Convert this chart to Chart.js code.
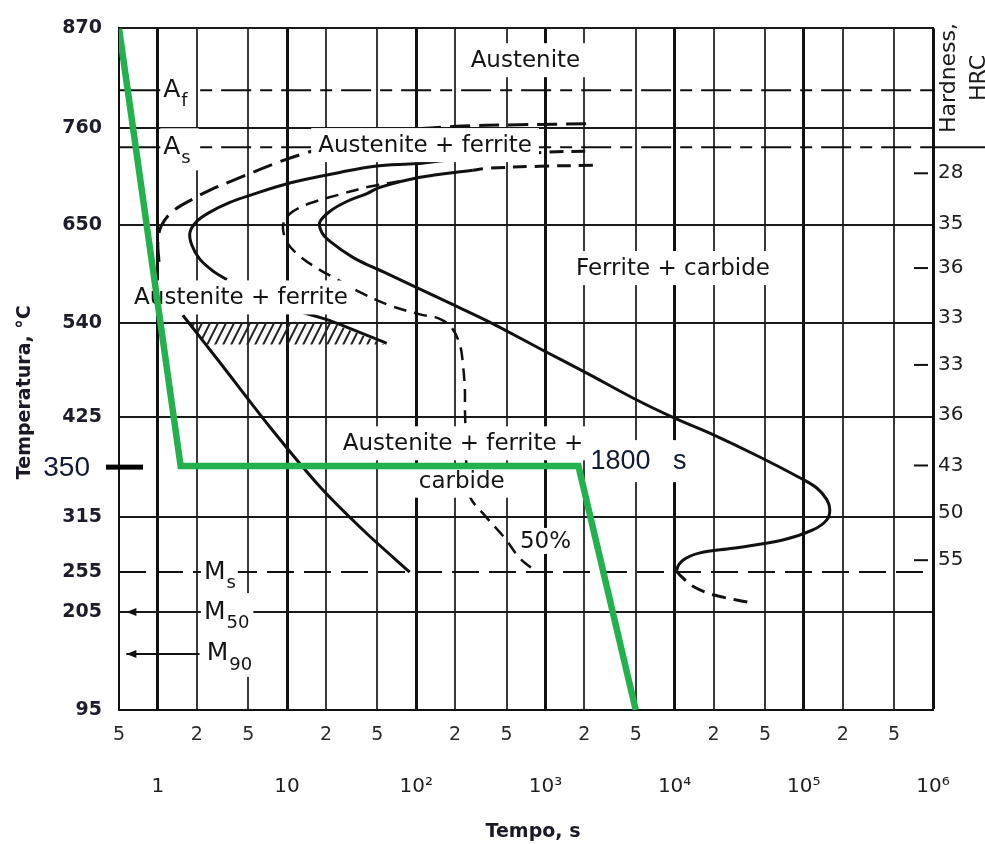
<!DOCTYPE html>
<html lang="en">
<head>
<meta charset="utf-8">
<title>Isothermal transformation diagram</title>
<script src="https://cdn.jsdelivr.net/npm/chart.js@4.4.1/dist/chart.umd.min.js"></script>
<style>
  html, body { margin: 0; padding: 0; background: #ffffff; }
  canvas { display: block; }
</style>
</head>
<body>
<canvas id="ttt" width="985" height="844"></canvas>
<script>
// ---------- axis ticks ----------
const timeGridTicks = [0.5, 1, 2, 5, 10, 20, 50, 100, 200, 500, 1000, 2000, 5000,
  1e4, 2e4, 5e4, 1e5, 2e5, 5e5, 1e6];
const timeDecadeTicks = [1, 10, 100, 1000, 1e4, 1e5, 1e6];
const timeDecadeLabels = ['1', '10', '10²', '10³', '10⁴', '10⁵', '10⁶'];
const tempTicks = [870, 760, 650, 540, 425, 350, 315, 255, 205, 95];
const tempGridLines = [870, 760, 650, 540, 425, 315, 205, 95];
const hardnessTemps = [709, 652, 602, 546, 489, 428, 351, 318, 268];
const hardnessHRC = [28, 35, 36, 33, 33, 36, 43, 50, 55];

// ---------- critical temperatures (°C) ----------
const tempAf = 802;
const tempAs = 738.5;
const tempMs = 255;
const tempM50 = 205;
const tempM90 = 158;

// ---------- heat-treatment path: quench, hold at 350 °C for 1800 s, cool ----------
const pathTime = [0.5, 1.5, 1800, 5000];
const pathTemp = [870, 350, 350, 95];

// ---------- transformation curves (time in s, temperature in °C) ----------
const outerStartTime = [1.02, 1.0, 1.06, 1.28, 1.77, 2.53, 4.3, 7.4, 12.6, 31, 75, 192, 630, 2200];
const outerStartTemp = [609, 631, 649, 665, 678, 690, 704, 718, 730, 746, 757, 762, 764, 765];

const ferriteStartTime = [3.42, 2.71, 2.11, 1.83, 1.77, 2.0, 2.53, 3.61, 5.15, 10.5, 25.6, 47.8,
  101, 152, 311, 1025, 2330];
const ferriteStartTemp = [589, 598, 612, 628, 642, 654.5, 665, 676, 684, 698, 710, 717,
  720, 723, 727, 733, 734];

const carbideTime = [2330, 905, 352, 274, 107, 52.3, 41.5, 29, 21.5, 17.9, 18.6, 21.5, 32.3,
  46.1, 55.2, 101, 182, 311, 444, 955, 2090, 5100, 10000, 18700, 45600, 93100, 126000,
  150700, 158900, 150700, 117400, 68800, 28200, 15700, 11600, 10400, 11200, 14300, 20500, 36900];
const carbideTemp = [718, 717, 714.6, 712.4, 704.4, 693, 686, 677, 666, 653.4, 642, 632, 614,
  603, 598, 580, 562.5, 546.7, 535, 507, 479, 446, 423.5, 400.5, 364, 342, 335,
  327, 320, 312, 301, 290, 281, 276, 268, 257, 250, 236, 226, 217.5];

const bainiteTime = [1.56, 3.02, 7.36, 17.9, 40, 89];
const bainiteTemp = [549, 492, 410, 336, 299, 255];

const halfTime = [74.6, 43.7, 25.6, 15, 10.9, 9.62, 9.28, 9.97, 12.6, 17.9, 22.6, 36.6, 62.5,
  107, 152, 189, 218, 230, 238, 238, 242, 246, 260, 340, 485, 634, 858];
const halfTemp = [700, 694, 685, 675, 665, 656, 647, 631, 615, 600, 592, 575, 560,
  550, 545, 534, 513, 489, 458, 436, 390, 344, 329, 316, 292, 270, 255];

const hatchEdgeTime = [13.25, 21.5, 59];
const hatchEdgeTemp = [552, 543, 515.5];
const hatchTime = [1.74, 22.6, 57, 2.4];
const hatchTemp = [540, 540, 514, 514];

// ---------- text placed on the diagram ----------
const regionLabels = [
  { text: 'Austenite', t: 700, T: 835 },
  { text: 'Austenite + ferrite', t: 117, T: 741 },
  { text: 'Ferrite + carbide', t: 9700, T: 602 },
  { text: 'Austenite + ferrite', t: 4.4, T: 569 },
  { text: 'Austenite + ferrite +', t: 230, T: 385 },
  { text: 'carbide', t: 225, T: 340 },
  { text: '50%', t: 1000, T: 289, padX: 2, h: 26 }
];
const phaseMarks = [
  { main: 'A', sub: 'f', t: 1.1, T: tempAf, padR: 8 },
  { main: 'A', sub: 's', t: 1.1, T: tempAs, padR: 8 },
  { main: 'M', sub: 's', t: 2.27, T: tempMs, padR: 2 },
  { main: 'M', sub: '50', t: 2.27, T: tempM50, padR: 4 },
  { main: 'M', sub: '90', t: 2.39, T: tempM90, padR: 4 }
];

const FONT = '"DejaVu Sans", "Open Sans", sans-serif';
const INK = '#141414';

// The printed temperature scale is not evenly spaced: each printed value
// sits at its own fraction of the axis height (top = 0, bottom = 1).
const tempAxisFractions = [0, 0.1466, 0.2889, 0.4326, 0.5704, 0.6422, 0.7170, 0.7977, 0.8563, 1];

function tempToFraction(v) {
  const vals = tempTicks, fr = tempAxisFractions, n = vals.length - 1;
  if (v >= vals[0]) return fr[0] - (v - vals[0]) * (fr[1] - fr[0]) / (vals[0] - vals[1]);
  for (let i = 0; i < n; i++) {
    if (v <= vals[i] && v >= vals[i + 1]) {
      return fr[i] + (vals[i] - v) / (vals[i] - vals[i + 1]) * (fr[i + 1] - fr[i]);
    }
  }
  return fr[n] + (vals[n] - v) * (fr[n] - fr[n - 1]) / (vals[n - 1] - vals[n]);
}
function fractionToTemp(f) {
  const vals = tempTicks, fr = tempAxisFractions, n = vals.length - 1;
  for (let i = 0; i < n; i++) {
    if (f >= fr[i] && f <= fr[i + 1]) {
      return vals[i] - (f - fr[i]) / (fr[i + 1] - fr[i]) * (vals[i] - vals[i + 1]);
    }
  }
  return f < 0 ? vals[0] : vals[n];
}

class TemperatureScale extends Chart.LinearScale {
  getPixelForValue(value) {
    if (value === null || value === undefined || isNaN(value)) return NaN;
    return this.top + tempToFraction(value) * (this.bottom - this.top);
  }
  getValueForPixel(pixel) {
    return fractionToTemp((pixel - this.top) / (this.bottom - this.top));
  }
}
TemperatureScale.id = 'temperature';
TemperatureScale.defaults = Chart.LinearScale.defaults;
Chart.register(TemperatureScale);

function series(times, temps) {
  return times.map((t, i) => ({ x: t, y: temps[i] }));
}
function isDecade(v) {
  if (!v || v < 1) return false;
  const l = Math.log10(v);
  return Math.abs(l - Math.round(l)) < 1e-6;
}
function minorLabel(v) {
  const mant = Math.round(v / Math.pow(10, Math.floor(Math.log10(v) + 1e-9)));
  return mant === 1 ? '' : String(mant);
}

// ---------- drawing helpers ----------
function drawHatch(chart) {
  const { ctx } = chart;
  const xS = chart.scales.x, yS = chart.scales.y;
  const pts = hatchTime.map((t, i) => [xS.getPixelForValue(t), yS.getPixelForValue(hatchTemp[i])]);
  ctx.save();
  ctx.beginPath();
  pts.forEach(([x, y], i) => (i ? ctx.lineTo(x, y) : ctx.moveTo(x, y)));
  ctx.closePath();
  ctx.clip();
  const xs = pts.map(p => p[0]), ys = pts.map(p => p[1]);
  const minY = Math.min(...ys), maxY = Math.max(...ys);
  const dx = (maxY - minY) * 0.6;
  ctx.strokeStyle = '#222';
  ctx.lineWidth = 2;
  for (let x = Math.min(...xs) - dx - 10; x < Math.max(...xs) + 10; x += 8) {
    ctx.beginPath();
    ctx.moveTo(x, maxY + 2);
    ctx.lineTo(x + dx, minY - 2);
    ctx.stroke();
  }
  ctx.restore();
}

function drawLabels(chart) {
  const { ctx } = chart;
  const xS = chart.scales.x, yS = chart.scales.y;
  ctx.save();
  ctx.textBaseline = 'middle';
  regionLabels.forEach(lb => {
    const x = xS.getPixelForValue(lb.t), y = yS.getPixelForValue(lb.T);
    ctx.font = '23px ' + FONT;
    const w = ctx.measureText(lb.text).width;
    const padX = lb.padX ?? 7, h = lb.h ?? 34;
    ctx.fillStyle = '#ffffff';
    ctx.fillRect(x - w / 2 - padX, y - h / 2, w + 2 * padX, h);
    ctx.fillStyle = INK;
    ctx.textAlign = 'center';
    ctx.fillText(lb.text, x, y + 1);
  });
  phaseMarks.forEach(m => {
    const x = xS.getPixelForValue(m.t), y = yS.getPixelForValue(m.T);
    ctx.font = '25px ' + FONT;
    const wM = ctx.measureText(m.main).width;
    ctx.font = '18px ' + FONT;
    const wS = ctx.measureText(m.sub).width;
    ctx.fillStyle = '#ffffff';
    ctx.fillRect(x - 3, y - 19, wM + wS + 4 + m.padR, 42);
    ctx.fillStyle = INK;
    ctx.textAlign = 'left';
    ctx.font = '25px ' + FONT;
    ctx.fillText(m.main, x, y);
    ctx.font = '18px ' + FONT;
    ctx.fillText(m.sub, x + wM + 1, y + 11);
  });
  // arrowheads on the M50 and M90 lines
  ctx.fillStyle = '#111';
  [tempM50, tempM90].forEach(T => {
    const tip = xS.getPixelForValue(0.57), y = yS.getPixelForValue(T);
    ctx.beginPath();
    ctx.moveTo(tip, y);
    ctx.lineTo(tip + 10, y - 4);
    ctx.lineTo(tip + 10, y + 4);
    ctx.closePath();
    ctx.fill();
  });
  ctx.restore();
}

function drawExtras(chart) {
  const { ctx, chartArea: area } = chart;
  const xS = chart.scales.x, yS = chart.scales.y;
  ctx.save();

  // axis titles
  ctx.fillStyle = '#1a1a26';
  ctx.textAlign = 'center';
  ctx.textBaseline = 'middle';
  ctx.font = 'bold 19px ' + FONT;
  ctx.save();
  ctx.translate(25, (area.top + area.bottom) / 2 + 23);
  ctx.rotate(-Math.PI / 2);
  ctx.fillText('Temperatura, °C', 0, 0);
  ctx.restore();
  ctx.fillText('Tempo, s', (area.left + area.right) / 2 + 7, 832);

  // hold temperature marker on the left axis
  const yHold = yS.getPixelForValue(pathTemp[1]);
  ctx.font = '28px "Liberation Sans", Arial, sans-serif';
  ctx.textAlign = 'right';
  ctx.fillStyle = '#111a33';
  ctx.fillText(String(pathTemp[1]), area.left - 29, yHold + 2);
  ctx.fillStyle = '#000';
  ctx.fillRect(area.left - 13, yHold - 1.5, 37, 5);

  // hold time label
  const xHoldEnd = xS.getPixelForValue(pathTime[2]);
  ctx.font = '27px "Liberation Sans", Arial, sans-serif';
  const holdText = pathTime[2] + '   s';
  const wHold = ctx.measureText(holdText).width;
  ctx.fillStyle = '#ffffff';
  ctx.fillRect(xHoldEnd + 9, yHold - 26, wHold + 8, 42);
  ctx.fillStyle = '#111a33';
  ctx.textAlign = 'left';
  ctx.fillText(holdText, xHoldEnd + 12, yHold - 5);

  // hardness column on the right
  ctx.strokeStyle = '#111';
  ctx.lineWidth = 2;
  const yAs = yS.getPixelForValue(tempAs);
  ctx.beginPath();
  ctx.moveTo(area.right, yAs);
  ctx.lineTo(chart.width, yAs);
  ctx.stroke();
  ctx.fillStyle = '#111';
  hardnessTemps.forEach(T => {
    if (tempGridLines.some(g => Math.abs(g - T) < 7)) return;
    const y = yS.getPixelForValue(T);
    ctx.fillRect(area.right - 19, y - 1, 14, 2);
  });
  ctx.fillStyle = '#1a1a1a';
  ctx.font = '22px ' + FONT;
  ctx.textAlign = 'center';
  ctx.save();
  ctx.translate(area.right + 16, 78);
  ctx.rotate(-Math.PI / 2);
  ctx.fillText('Hardness,', 0, 0);
  ctx.fillText('HRC', 0, 30);
  ctx.restore();

  ctx.restore();
}

const diagramPlugin = {
  id: 'diagram',
  beforeDatasetsDraw(chart) { drawHatch(chart); },
  beforeDatasetDraw(chart, args) {
    if (chart.data.datasets[args.index].label === 'Ciclo') drawLabels(chart);
  },
  afterDraw(chart) { drawExtras(chart); }
};

const black = '#111111';
const baseLine = { borderColor: black, borderWidth: 3, pointRadius: 0, fill: false, order: 1 };

const datasets = [
  { ...baseLine, label: 'Ciclo', data: series(pathTime, pathTemp), borderColor: '#22b14c',
    borderWidth: 6.5, tension: 0, order: 0, borderJoinStyle: 'miter' },
  { ...baseLine, label: 'Af', borderWidth: 2, tension: 0,
    data: [{ x: 0.5, y: tempAf }, { x: 1.06, y: tempAf }, { x: 1e6, y: tempAf }],
    segment: { borderDash: c => (c.p0DataIndex >= 1 ? [30, 9, 12, 9] : undefined) } },
  { ...baseLine, label: 'As', borderWidth: 2, tension: 0,
    data: [{ x: 0.5, y: tempAs }, { x: 1.06, y: tempAs }, { x: 1e6, y: tempAs }],
    segment: { borderDash: c => (c.p0DataIndex >= 1 ? [30, 9, 12, 9] : undefined) } },
  { ...baseLine, label: 'Ms', borderWidth: 2, tension: 0, borderDash: [27, 10],
    data: [{ x: 0.5, y: tempMs }, { x: 1e6, y: tempMs }] },
  { ...baseLine, label: 'M90', borderWidth: 2, tension: 0,
    data: [{ x: 0.57, y: tempM90 }, { x: 2.1, y: tempM90 }] },
  { ...baseLine, label: 'Outer start', data: series(outerStartTime, outerStartTemp),
    tension: 0.35, borderDash: [20, 9] },
  { ...baseLine, label: 'Ferrite start', data: series(ferriteStartTime, ferriteStartTemp),
    tension: 0.35, segment: { borderDash: c => (c.p0DataIndex >= 13 ? [14, 8] : undefined) } },
  { ...baseLine, label: 'Carbide', data: series(carbideTime, carbideTemp), tension: 0.35,
    segment: { borderDash: c => (c.p0DataIndex < 3 || c.p0DataIndex >= 35 ? [14, 8] : undefined) } },
  { ...baseLine, label: 'Bainite start', data: series(bainiteTime, bainiteTemp), tension: 0.3 },
  { ...baseLine, label: 'Hatch edge', data: series(hatchEdgeTime, hatchEdgeTemp), tension: 0.2 },
  { ...baseLine, label: '50%', data: series(halfTime, halfTemp), tension: 0.35,
    borderWidth: 2.5, borderDash: [13, 8] }
];

new Chart(document.getElementById('ttt'), {
  type: 'line',
  data: { datasets },
  plugins: [diagramPlugin],
  options: {
    responsive: false,
    animation: false,
    events: [],
    layout: { padding: { top: 28, left: 0, right: 0, bottom: 0 } },
    plugins: { legend: { display: false }, tooltip: { enabled: false } },
    elements: { point: { radius: 0 } },
    scales: {
      x: {
        type: 'logarithmic', position: 'bottom', min: 0.5, max: 1e6, weight: 0,
        afterBuildTicks: s => { s.ticks = timeGridTicks.map(v => ({ value: v })); },
        afterFit: s => { s.height = 50; },
        grid: {
          drawTicks: false,
          color: c => (isDecade(c.tick && c.tick.value) ? '#111' : '#3a3a3a'),
          lineWidth: c => (isDecade(c.tick && c.tick.value) ? 3 : 2)
        },
        border: { display: true, color: '#111', width: 2 },
        ticks: {
          autoSkip: false, maxRotation: 0, minRotation: 0, padding: 14, color: '#2a2a2a',
          font: { family: FONT, size: 19 },
          callback: v => minorLabel(v)
        }
      },
      x2: {
        type: 'logarithmic', position: 'bottom', min: 0.5, max: 1e6, weight: 1,
        afterBuildTicks: s => { s.ticks = timeDecadeTicks.map(v => ({ value: v })); },
        afterFit: s => { s.height = 84; },
        grid: { display: false, drawTicks: false },
        border: { display: false },
        ticks: {
          autoSkip: false, maxRotation: 0, minRotation: 0, padding: 15, color: '#1e1e1e',
          font: { family: FONT, size: 20 },
          callback: (v, i) => timeDecadeLabels[i]
        }
      },
      y: {
        type: 'temperature', position: 'left', min: 95, max: 870,
        afterBuildTicks: s => { s.ticks = tempTicks.map(v => ({ value: v })); },
        afterFit: s => { s.width = 119; },
        grid: {
          drawTicks: false, lineWidth: 2,
          color: c => (tempGridLines.includes(c.tick && c.tick.value) ? '#1a1a1a' : 'rgba(0,0,0,0)')
        },
        border: { display: true, color: '#111', width: 2 },
        ticks: {
          autoSkip: false, padding: 17, color: '#1d1d2b',
          font: { family: FONT, size: 19, weight: 'bold' },
          callback: v => (v === pathTemp[1] ? '' : String(v))
        }
      },
      y2: {
        type: 'temperature', position: 'right', min: 95, max: 870,
        afterBuildTicks: s => { s.ticks = hardnessTemps.map(v => ({ value: v })); },
        afterFit: s => { s.width = 52; },
        grid: { display: false, drawTicks: false },
        border: { display: true, color: '#111', width: 2 },
        ticks: {
          autoSkip: false, padding: 5, color: '#1e1e1e',
          font: { family: FONT, size: 20 },
          callback: (v, i) => String(hardnessHRC[i])
        }
      }
    }
  }
});
</script>
</body>
</html>
